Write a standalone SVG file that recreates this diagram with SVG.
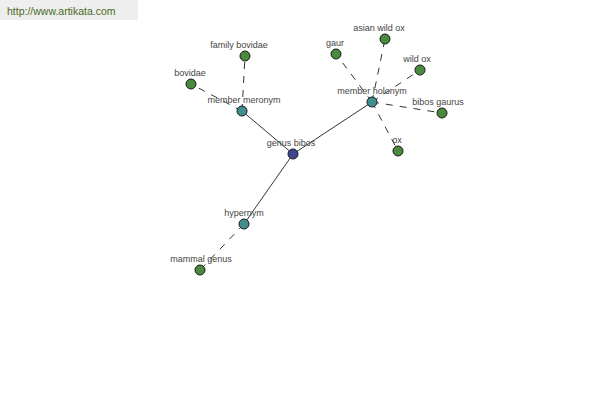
<svg xmlns="http://www.w3.org/2000/svg" width="600" height="400" viewBox="0 0 600 400">
<style>
.lbl{font-family:"Liberation Sans",Arial,sans-serif;font-size:9px;fill:#444;text-anchor:middle}
.n{stroke:#1a1a1a;stroke-width:1}
.leaf{fill:#4a8a3e}
.rel{fill:#3f8f8f}
.root{fill:#3d4592}
.solid{stroke:#000;stroke-width:0.8;fill:none}
.dash{stroke:#000;stroke-width:0.8;fill:none;stroke-dasharray:7,7}
</style>
<rect x="0" y="0" width="138" height="20" fill="#eeeeee"/>
<text x="7" y="15" font-family="'Liberation Sans',Arial,sans-serif" font-size="10.5" fill="#4a6a1a">http://www.artikata.com</text>
<g id="connectors">
<line class="solid" x1="293" y1="154" x2="242" y2="111"/>
<line class="solid" x1="293" y1="154" x2="372" y2="102"/>
<line class="solid" x1="293" y1="154" x2="244" y2="224"/>
<line class="dash" x1="244" y1="224" x2="200" y2="270"/>
<line class="dash" x1="242" y1="111" x2="245" y2="56"/>
<line class="dash" x1="242" y1="111" x2="191" y2="84"/>
<line class="dash" x1="372" y1="102" x2="336" y2="54"/>
<line class="dash" x1="372" y1="102" x2="385" y2="39"/>
<line class="dash" x1="372" y1="102" x2="420" y2="70"/>
<line class="dash" x1="372" y1="102" x2="442" y2="113"/>
<line class="dash" x1="372" y1="102" x2="398" y2="151"/>
</g>
<g id="genus-bibos"><circle class="n root" cx="293" cy="154" r="5"/><text class="lbl" x="291" y="146">genus bibos</text></g>
<g id="member-meronym"><circle class="n rel" cx="242" cy="111" r="5"/><text class="lbl" x="244" y="103">member meronym</text></g>
<g id="member-holonym"><circle class="n rel" cx="372" cy="102" r="5"/><text class="lbl" x="372" y="94">member holonym</text></g>
<g id="hypernym"><circle class="n rel" cx="244" cy="224" r="5"/><text class="lbl" x="244" y="216">hypernym</text></g>
<g id="mammal-genus"><circle class="n leaf" cx="200" cy="270" r="5"/><text class="lbl" x="201" y="262">mammal genus</text></g>
<g id="family-bovidae"><circle class="n leaf" cx="245" cy="56" r="5"/><text class="lbl" x="239" y="48">family bovidae</text></g>
<g id="bovidae"><circle class="n leaf" cx="191" cy="84" r="5"/><text class="lbl" x="190" y="76">bovidae</text></g>
<g id="gaur"><circle class="n leaf" cx="336" cy="54" r="5"/><text class="lbl" x="335" y="46">gaur</text></g>
<g id="asian-wild-ox"><circle class="n leaf" cx="385" cy="39" r="5"/><text class="lbl" x="379" y="31">asian wild ox</text></g>
<g id="wild-ox"><circle class="n leaf" cx="420" cy="70" r="5"/><text class="lbl" x="417" y="62">wild ox</text></g>
<g id="bibos-gaurus"><circle class="n leaf" cx="442" cy="113" r="5"/><text class="lbl" x="438" y="105">bibos gaurus</text></g>
<g id="ox"><circle class="n leaf" cx="398" cy="151" r="5"/><text class="lbl" x="397" y="143">ox</text></g>
</svg>
